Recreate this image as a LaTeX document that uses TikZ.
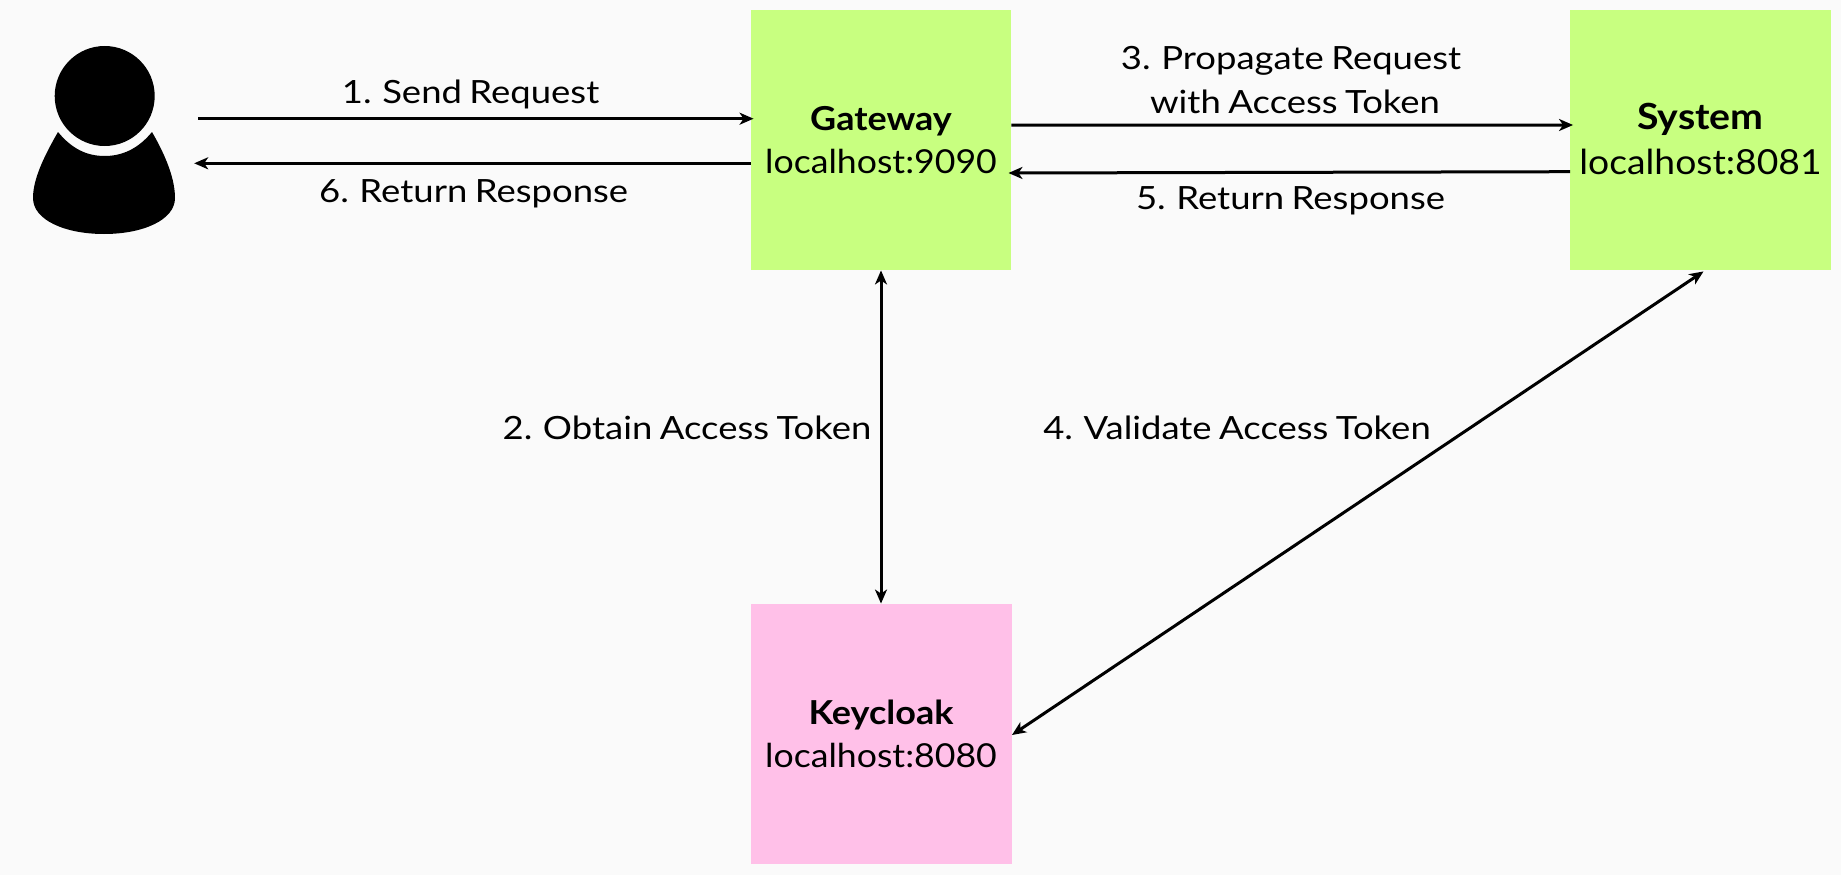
\documentclass[tikz,border=0pt]{standalone}
\usepackage{fontspec}
\setmainfont{Lato}
\newfontfamily\lblfont[FakeStretch=1.14,WordSpace=0.8]{Lato}
\newfontfamily\addrfont[FakeStretch=1.08]{Lato}
\newfontfamily\ttlfont[FakeStretch=1.09,BoldFont={Lato Bold}]{Lato}
\usetikzlibrary{arrows.meta}
\definecolor{bgc}{RGB}{250,250,250}
\definecolor{greenbox}{RGB}{200,255,128}
\definecolor{pinkbox}{RGB}{255,192,232}
\tikzset{
  x=1pt,y=-1pt,
  boxnode/.style={draw=none,minimum width=260.5pt,minimum height=260.5pt,inner sep=0pt,anchor=center},
  labelnode/.style={inner sep=0pt,anchor=base,font=\lblfont\fontsize{32}{36}\selectfont},
  addrnode/.style={inner sep=0pt,anchor=base,font=\addrfont\fontsize{33}{38}\selectfont},
  titlenode/.style={inner sep=0pt,anchor=base,font=\ttlfont\bfseries\fontsize{33}{38}\selectfont},
  conn/.style={line width=3pt,-{Stealth[length=14pt,width=12pt,inset=4pt]},shorten >=-3pt},
  connback/.style={line width=3pt,{Stealth[length=14pt,width=12pt,inset=4pt]}-{Stealth[length=14pt,width=12pt,inset=4pt]}},
}
\begin{document}
\begin{tikzpicture}
\useasboundingbox (0,0) rectangle (1841,875);
\fill[bgc] (0,0) rectangle (1841,875);
% boxes
\node[boxnode,fill=greenbox] (gw) at (881,140) {};
\node[boxnode,fill=greenbox] (sys) at (1700.5,140) {};
\node[boxnode,fill=pinkbox] (kc) at (881.5,734) {};
% person
\node[inner sep=0pt,minimum width=142pt,minimum height=188pt] (user) at (104,140) {};
\fill[black] (104.7,96) ellipse [x radius=50,y radius=50];
\fill[black] (58,132)
  .. controls (72,149) and (87,156) .. (104.7,156)
  .. controls (122,156) and (138,149) .. (152,132)
  .. controls (167,158) and (175,180) .. (175,198)
  .. controls (175,220) and (143,234) .. (104,234)
  .. controls (65,234) and (33,220) .. (33,198)
  .. controls (33,180) and (43,158) .. (58,132) -- cycle;
% texts in boxes
\node[titlenode] (gwt) at (881,130) {Gateway};
\node[addrnode] (gwa) at (881,173) {localhost:9090};
\node[titlenode,font=\ttlfont\bfseries\fontsize{36}{40}\selectfont] (syst) at (1700.5,129) {System};
\node[addrnode,font=\addrfont\fontsize{34.5}{40}\selectfont] (sysa) at (1700.5,174) {localhost:8081};
\node[titlenode] (kct) at (881,724) {Keycloak};
\node[addrnode] (kca) at (881,767) {localhost:8080};
% connector labels
\node[labelnode] (l1) at (470.6,103) {1. Send Request};
\node[labelnode] (l6) at (473.6,202) {6. Return Response};
\node[labelnode] (l3a) at (1291,70) {3. Propagate Request};
\node[labelnode] (l3b) at (1295,113) {with Access Token};
\node[labelnode] (l5) at (1290.5,209) {5. Return Response};
\node[labelnode] (l2) at (687,439) {2. Obtain Access Token};
\node[labelnode] (l4) at (1237,439) {4. Validate Access Token};
% connectors
\draw[conn] ([shift={(23,-21.3)}]user.east) -- ([yshift=21.3pt]gw.west);
\draw[conn,shorten >=0pt] ([yshift=-23.3pt]gw.west) -- ([shift={(19,23.3)}]user.east);
\draw[conn] ([yshift=14.8pt]gw.east) -- ([yshift=15pt]sys.west);
\draw[conn,shorten >=0pt] ([yshift=-31.7pt]sys.west) -- ([shift={(-3,33)}]gw.east);
\draw[connback] (gw.south) -- (kc.north -| gw.south);
\draw[connback] ([yshift=-1pt]kc.east) -- ([shift={(3,1)}]sys.south);
\end{tikzpicture}
\end{document}
